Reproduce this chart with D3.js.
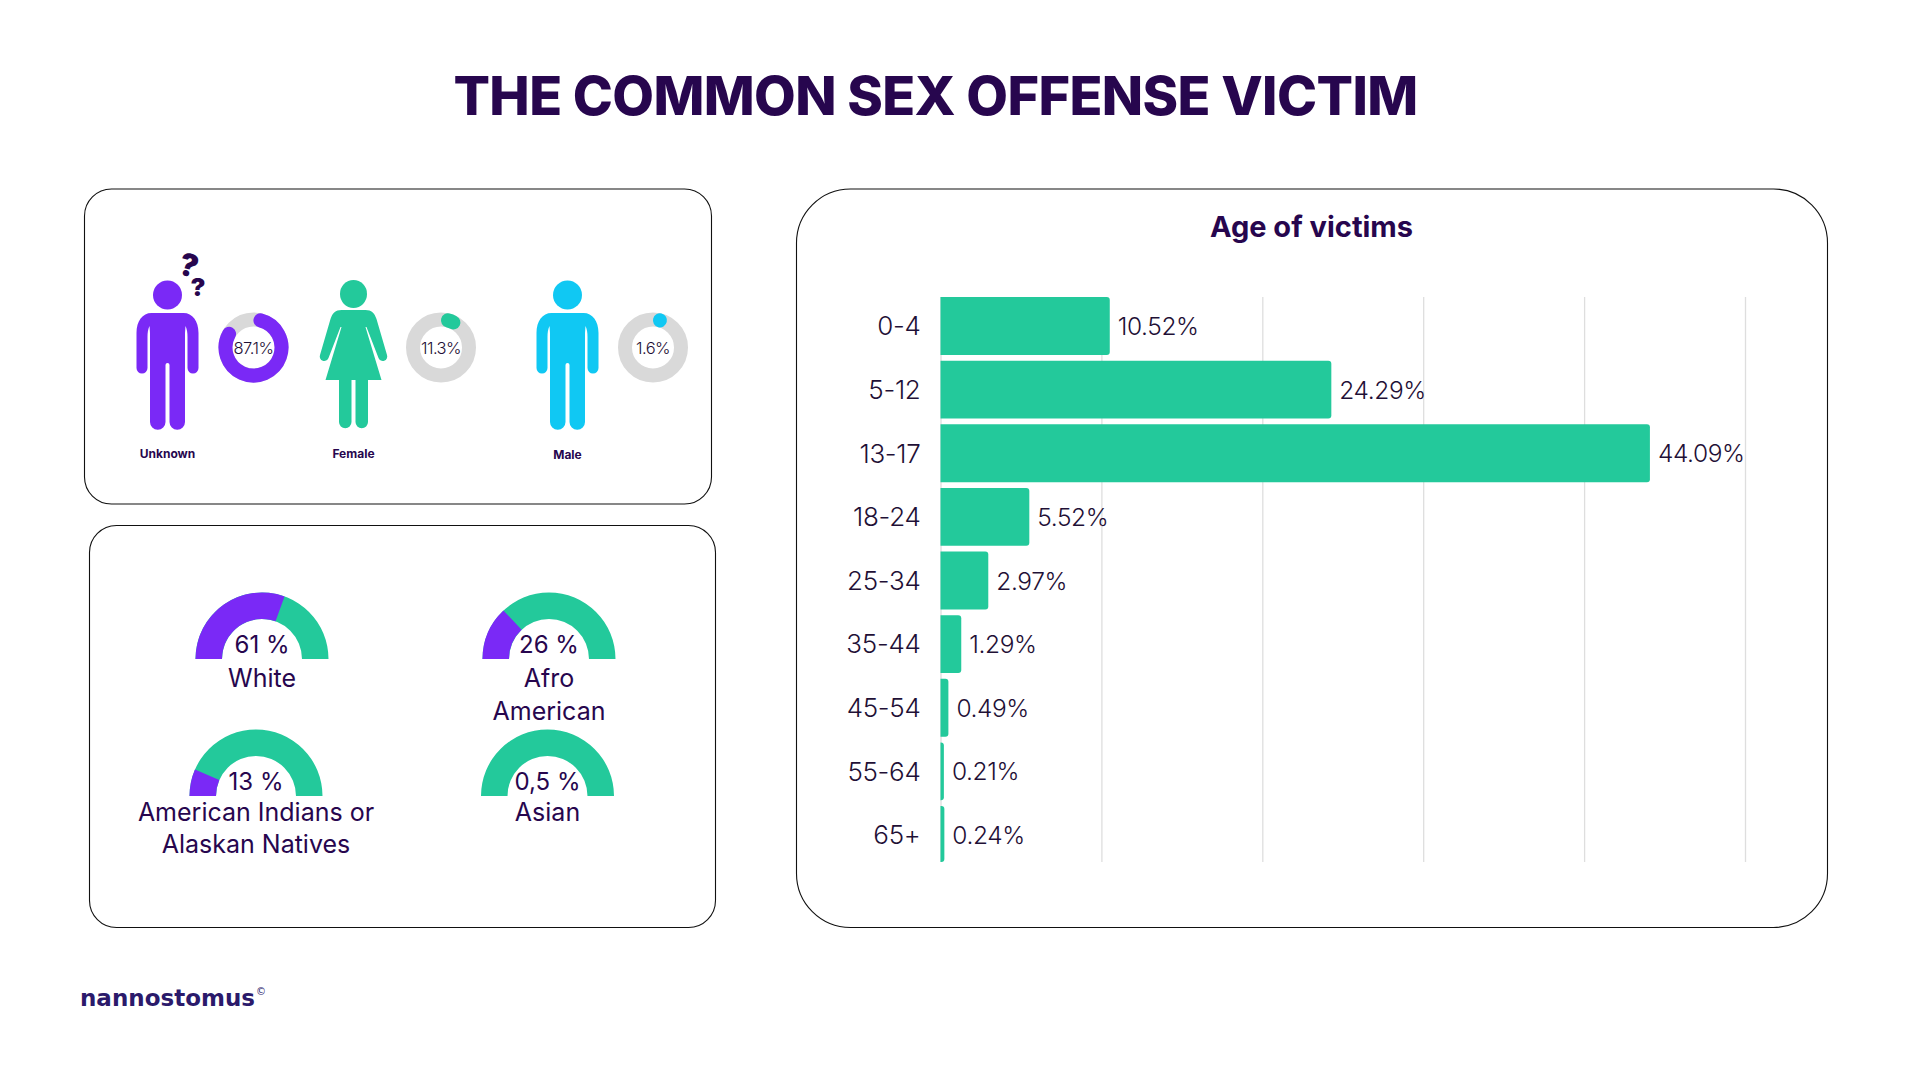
<!DOCTYPE html>
<html>
<head>
<meta charset="utf-8">
<title>The common sex offense victim</title>
<script src="https://cdn.jsdelivr.net/npm/d3@7"></script>
<style>
  html, body { margin: 0; background: #fff; }
  text { font-family: Inter, "Open Sans", sans-serif; fill: #27064e; }
</style>
</head>
<body>
<div id="chart"></div>
<script>
// age of victims
var ageGroups = ['0-4', '5-12', '13-17', '18-24', '25-34', '35-44', '45-54', '55-64', '65+'];
var ageShares = [10.52, 24.29, 44.09, 5.52, 2.97, 1.29, 0.49, 0.21, 0.24];
var ageTicks = [0, 10, 20, 30, 40, 50];

// gender
var genders = ['Unknown', 'Female', 'Male'];
var genderShares = [87.1, 11.3, 1.6];

// race
var races = [['White'], ['Afro', 'American'], ['American Indians or', 'Alaskan Natives'], ['Asian']];
var raceShares = [61, 26, 13, 0.5];
var raceLabels = ['61 %', '26 %', '13 %', '0,5 %'];

var DARK = '#1f1036',
  PURPLE = '#7a29f6',
  GREEN = '#23c99b',
  CYAN = '#10c8f3',
  TRACK = '#d9d9d9';

// pictograms, origin at the middle of the shoulder line
var manPath = 'M-16 0H16C25 0 31 8 31 20V55A5.5 5.5 0 0 1 20 55V24Q20 17 18 13L17.5 20V109A7.7 7.7 0 0 1 2 109V52' +
  'A2 2 0 0 0 -2 52V109A7.7 7.7 0 0 1 -17.5 109V20L-18 13Q-20 17 -20 24V55A5.5 5.5 0 0 1 -31 55V20C-31 8 -25 0 -16 0Z';
var womanPath = 'M-12 0H12C18 0 21 3 23 9L33.5 45A4.5 4.5 0 0 1 25 48L13 17H12L28 70H14.5V112A6.2 6.2 0 0 1 2 112V70' +
  'H-2V112A6.2 6.2 0 0 1 -14.5 112V70H-28L-12 17H-13L-25 48A4.5 4.5 0 0 1 -33.5 45L-23 9C-21 3 -18 0 -12 0Z';

var svg = d3.select('#chart')
  .append('svg')
  .attr('width', 1920)
  .attr('height', 1080);

svg.append('text')
  .attr('x', 935.5)
  .attr('y', 115)
  .attr('text-anchor', 'middle')
  .attr('font-size', 54)
  .attr('font-weight', 800)
  .attr('letter-spacing', -0.6)
  .text('THE COMMON SEX OFFENSE VICTIM');

function panel (x, y, w, h, r) {
  svg.append('rect')
    .attr('x', x)
    .attr('y', y)
    .attr('width', w)
    .attr('height', h)
    .attr('rx', r)
    .attr('fill', '#fff')
    .attr('stroke', '#111')
    .attr('stroke-width', 1.1);
}

panel(84.5, 189, 627, 315, 27);
panel(89.5, 525.5, 626, 402, 27);
panel(796.5, 189, 1031, 738.5, 54);

// ---- gender panel
var genderColors = [PURPLE, GREEN, CYAN],
  figureX = [167.5, 353.5, 567.5],
  donutX = [253.5, 441, 653],
  nameY = [458, 458, 459];

var ringRadius = 28,
  ringWidth = 14,
  capAngle = (ringWidth / 2) / ringRadius,
  ringScale = d3.scaleLinear().domain([0, 100]).range([0, 2 * Math.PI]);

function ringPath (share) {
  var path = d3.path(),
    a0 = capAngle,
    a1 = Math.max(a0 + 0.001, ringScale(share) - capAngle);
  // angles run clockwise from twelve o'clock
  path.arc(0, 0, ringRadius, a0 - Math.PI / 2, a1 - Math.PI / 2);
  return path.toString();
}

genders.forEach(function (name, i) {
  var color = genderColors[i],
    person = svg.append('g')
      .attr('transform', 'translate(' + figureX[i] + ',' + (i === 1 ? 310 : 313) + ')');

  person.append('path')
    .attr('d', i === 1 ? womanPath : manPath)
    .attr('fill', color);

  person.append('ellipse')
    .attr('cy', i === 1 ? -16 : -18)
    .attr('rx', i === 1 ? 13.5 : 14.5)
    .attr('ry', i === 1 ? 14 : 14.5)
    .attr('fill', color);

  var donut = svg.append('g')
    .attr('transform', 'translate(' + donutX[i] + ',' + 347.5 + ')');

  donut.append('circle')
    .attr('r', ringRadius)
    .attr('fill', 'none')
    .attr('stroke', TRACK)
    .attr('stroke-width', ringWidth);

  donut.append('path')
    .attr('d', ringPath(genderShares[i]))
    .attr('fill', 'none')
    .attr('stroke', color)
    .attr('stroke-width', ringWidth)
    .attr('stroke-linecap', 'round');

  donut.append('text')
    .attr('y', 6)
    .attr('text-anchor', 'middle')
    .attr('font-size', 16.5)
    .attr('font-weight', 300)
    .attr('letter-spacing', -0.5)
    .style('fill', DARK)
    .text(genderShares[i] + '%');

  svg.append('text')
    .attr('x', figureX[i])
    .attr('y', nameY[i])
    .attr('text-anchor', 'middle')
    .attr('font-size', 12)
    .attr('font-weight', 700)
    .text(name);
});

// question marks over the unknown figure
svg.append('text')
  .attr('font-size', 31)
  .attr('font-weight', 900)
  .attr('text-anchor', 'middle')
  .attr('transform', 'translate(186,276) rotate(15)')
  .text('?');

svg.append('text')
  .attr('font-size', 25)
  .attr('font-weight', 900)
  .attr('text-anchor', 'middle')
  .attr('transform', 'translate(198,296)')
  .text('?');

// ---- race panel
var gaugeX = [262, 549, 256, 547.5],
  gaugeY = [659, 659, 796, 796],
  nameLineY = [
    [687],
    [687, 720],
    [821, 853],
    [821]
  ];

var gaugeScale = d3.scaleLinear().domain([0, 100]).range([-Math.PI / 2, Math.PI / 2]),
  gaugeArc = d3.arc().innerRadius(40).outerRadius(66.5);

races.forEach(function (lines, i) {
  var gauge = svg.append('g')
    .attr('transform', 'translate(' + gaugeX[i] + ',' + gaugeY[i] + ')');

  gauge.append('path')
    .attr('d', gaugeArc({ startAngle: gaugeScale(0), endAngle: gaugeScale(100) }))
    .attr('fill', GREEN);

  // the 0,5 % slice is too thin to show
  if (raceShares[i] >= 1) {
    gauge.append('path')
      .attr('d', gaugeArc({ startAngle: gaugeScale(0), endAngle: gaugeScale(raceShares[i]) }))
      .attr('fill', PURPLE);
  }

  gauge.append('text')
    .attr('y', -6)
    .attr('text-anchor', 'middle')
    .attr('font-size', 24)
    .attr('font-weight', 400)
    .text(raceLabels[i]);

  svg.selectAll(null)
    .data(lines)
    .enter().append('text')
    .attr('x', gaugeX[i])
    .attr('y', function (d, k) { return nameLineY[i][k]; })
    .attr('text-anchor', 'middle')
    .attr('font-size', 25)
    .attr('font-weight', 400)
    .text(function (d) { return d; });
});

// ---- age panel
svg.append('text')
  .attr('x', 1311.5)
  .attr('y', 236.5)
  .attr('text-anchor', 'middle')
  .attr('font-size', 29)
  .attr('font-weight', 700)
  .text('Age of victims');

var x = d3.scaleLinear().domain([0, 50]).range([940.5, 1745]),
  y = d3.scaleBand().domain(ageGroups).range([297, 864]).paddingInner(0.09);

svg.append('g')
  .attr('transform', 'translate(0,862)')
  .call(d3.axisBottom(x).tickValues(ageTicks).tickSize(-565).tickFormat(''))
  .call(function (g) { g.select('.domain').remove(); })
  .selectAll('line')
  .attr('stroke', '#dedede')
  .attr('stroke-width', 1.3);

function barPath (d, i) {
  var path = d3.path(),
    x0 = x(0),
    x1 = x(d),
    y0 = y(ageGroups[i]),
    y1 = Math.min(y0 + y.bandwidth(), 862),
    r = Math.min(3, x1 - x0);
  path.moveTo(x0, y0);
  path.lineTo(x1 - r, y0);
  path.quadraticCurveTo(x1, y0, x1, y0 + r);
  path.lineTo(x1, y1 - r);
  path.quadraticCurveTo(x1, y1, x1 - r, y1);
  path.lineTo(x0, y1);
  path.closePath();
  return path.toString();
}

svg.selectAll('path.bar')
  .data(ageShares)
  .enter().append('path')
  .attr('class', 'bar')
  .attr('d', barPath)
  .attr('fill', GREEN);

svg.selectAll('text.value')
  .data(ageShares)
  .enter().append('text')
  .attr('class', 'value')
  .attr('x', function (d) { return x(d) + 8; })
  .attr('y', function (d, i) { return y(ageGroups[i]) + y.bandwidth() / 2 + 9; })
  .attr('font-size', 24.5)
  .attr('font-weight', 300)
  .attr('letter-spacing', -0.4)
  .style('fill', DARK)
  .text(function (d) { return d.toFixed(2) + '%'; });

svg.append('g')
  .attr('transform', 'translate(940.5,1)')
  .call(d3.axisLeft(y).tickSize(0).tickPadding(20))
  .call(function (g) { g.select('.domain').remove(); })
  .selectAll('text')
  .attr('font-family', 'Inter')
  .attr('font-size', 26)
  .attr('font-weight', 300)
  .attr('letter-spacing', -0.3)
  .style('fill', DARK);

// ---- logo
var logo = svg.append('text')
  .attr('x', 80)
  .attr('y', 1006)
  .attr('font-size', 23)
  .attr('font-weight', 700)
  .style('font-family', '"DejaVu Sans"')
  .style('fill', '#2b1a6b')
  .text('nannostomus');

logo.append('tspan')
  .attr('dy', -11)
  .attr('dx', 1)
  .attr('font-size', 10)
  .attr('font-weight', 400)
  .text('©');
</script>
</body>
</html>
